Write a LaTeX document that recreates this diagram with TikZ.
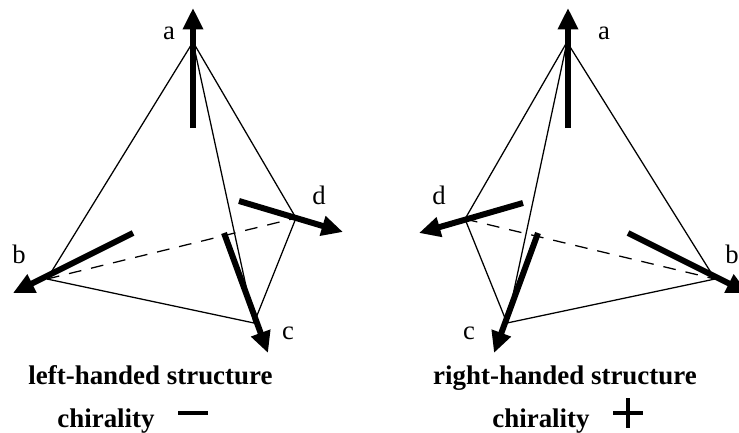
\documentclass[tikz,border=0pt]{standalone}
\usepackage{fontspec}
\setmainfont{Liberation Serif}
\usetikzlibrary{arrows.meta}
\tikzset{
  edge/.style={line width=0.95pt,black},
  hidden/.style={edge,dash pattern=on 9.5pt off 7.5pt},
  spin/.style={line width=4.5pt,black,-{Triangle[length=16pt,width=14.5pt]}},
  sign/.style={line width=3.5pt,black},
  vlabel/.style={anchor=base,inner sep=0pt,font=\fontsize{20}{22}\selectfont},
  caption/.style={anchor=base,inner sep=0pt,font=\bfseries\fontsize{20.2}{22}\selectfont}
}
\begin{document}
\begin{tikzpicture}[x=0.75pt,y=-0.75pt]
\useasboundingbox (0,0) rectangle (739,432);
\clip (0,0) rectangle (739,432);
% left tetrahedron
\coordinate (La) at (193,42);
\coordinate (Lb) at (47,279);
\coordinate (Lc) at (254,323);
\coordinate (Ld) at (296,218);
\coordinate (LaT) at (193,128);
\coordinate (LaH) at (193,8);
\coordinate (LbT) at (133,233);
\coordinate (LbH) at (13,293);
\coordinate (LcT) at (224,233);
\coordinate (LcH) at (268,353);
\coordinate (LdT) at (239,201);
\coordinate (LdH) at (343,232);
\draw[edge] (La) -- (Lb);
\draw[edge] (La) -- (Lc);
\draw[edge] (La) -- (Ld);
\draw[edge] (Lb) -- (Lc);
\draw[edge] (Lc) -- (Ld);
\draw[hidden] (Lb) -- (Ld);
\draw[spin] (LaT) -- (LaH);
\draw[spin] (LbT) -- (LbH);
\draw[spin] (LcT) -- (LcH);
\draw[spin] (LdT) -- (LdH);
\node[vlabel] (la) at (169,39) {a};
\node[vlabel] (lb) at (19,263) {b};
\node[vlabel] (lc) at (288,339) {c};
\node[vlabel] (ld) at (319,204) {d};
\node[caption] (lcap) at (150.5,384) {left-handed structure};
\node[caption] (lchi) at (106,427) {chirality};
\coordinate (M1) at (178,413);
\coordinate (M2) at (208,413);
\draw[sign] (M1) -- (M2);
% right tetrahedron
\coordinate (Ra) at (567,42);
\coordinate (Rb) at (715,279);
\coordinate (Rc) at (507,323);
\coordinate (Rd) at (465,219);
\coordinate (RaT) at (568,128);
\coordinate (RaH) at (568,8);
\coordinate (RbT) at (628,233);
\coordinate (RbH) at (748,293);
\coordinate (RcT) at (538,233);
\coordinate (RcH) at (494,353);
\coordinate (RdT) at (523,203);
\coordinate (RdH) at (419,233);
\draw[edge] (Ra) -- (Rb);
\draw[edge] (Ra) -- (Rc);
\draw[edge] (Ra) -- (Rd);
\draw[edge] (Rb) -- (Rc);
\draw[edge] (Rc) -- (Rd);
\draw[hidden] (Rd) -- (Rb);
\draw[spin] (RaT) -- (RaH);
\draw[spin] (RbT) -- (RbH);
\draw[spin] (RcT) -- (RcH);
\draw[spin] (RdT) -- (RdH);
\node[vlabel] (ra) at (604,39) {a};
\node[vlabel] (rb) at (732,263) {b};
\node[vlabel] (rc) at (469,339) {c};
\node[vlabel] (rd) at (439,204) {d};
\node[caption] (rcap) at (565,384) {right-handed structure};
\node[caption] (rchi) at (541,427) {chirality};
\coordinate (P1) at (613,413);
\coordinate (P2) at (643,413);
\coordinate (P3) at (628,398);
\coordinate (P4) at (628,428);
\draw[sign] (P1) -- (P2);
\draw[sign] (P3) -- (P4);
\end{tikzpicture}
\end{document}
